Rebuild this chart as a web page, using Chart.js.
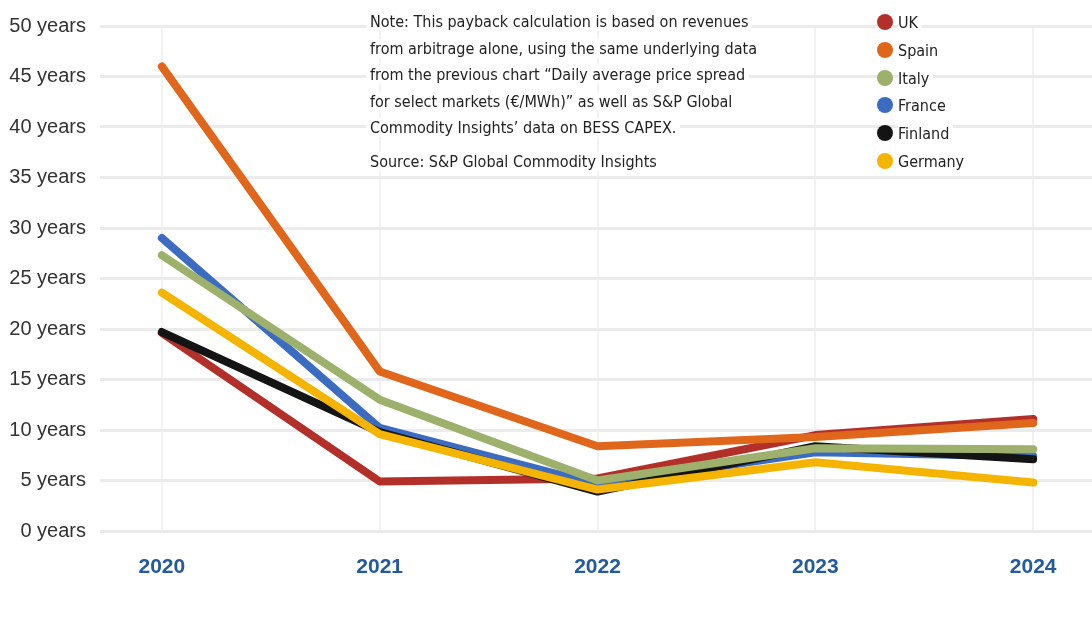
<!DOCTYPE html>
<html lang="en">
<head>
<meta charset="UTF-8">
<title>BESS payback by market</title>
<style>
body { margin: 0; background: #fff; font-family: 'Liberation Sans Narrow', 'DejaVu Sans Condensed', sans-serif; }
.wrap { position: relative; width: 1092px; height: 619px; }
#chart { position: absolute; left: 0; top: 0; }
.note { position: absolute; left: 366px; top: 9px; font-size: 16px; line-height: 26.6px; color: #222; }
.note span { background: #fff; padding: 0 4px; }
.note .src { margin-top: 7px; }
.legend { position: absolute; left: 877px; top: 9px; font-size: 16px; color: #222; }
.legend div { height: 27.8px; line-height: 27.8px; }
.legend i { display: inline-block; width: 16px; height: 16px; border-radius: 50%; vertical-align: -2px; margin-right: 5px; }
.legend span { background: #fff; padding-right: 4px; }
</style>
</head>
<body>
<div class="wrap">
  <canvas id="chart" width="1092" height="619"></canvas>
  <div class="note">
    <div><span>Note: This payback calculation is based on revenues</span></div>
    <div><span>from arbitrage alone, using the same underlying data</span></div>
    <div><span>from the previous chart “Daily average price spread</span></div>
    <div><span>for select markets (€/MWh)” as well as S&amp;P Global</span></div>
    <div><span>Commodity Insights’ data on BESS CAPEX.</span></div>
    <div class="src"><span>Source: S&amp;P Global Commodity Insights</span></div>
  </div>
  <div class="legend" id="legend"></div>
</div>
<script src="https://cdn.jsdelivr.net/npm/chart.js@4.4.1/dist/chart.umd.min.js"></script>
<script>
const years = [2020, 2021, 2022, 2023, 2024];
const countries = ['UK', 'Spain', 'Italy', 'France', 'Finland', 'Germany'];
const colors = ['#b3302a', '#e0661c', '#9db16c', '#3b6cc2', '#141414', '#f5b400'];
const uk = [19.6, 4.9, 5.2, 9.5, 11.1];
const spain = [46.0, 15.8, 8.4, 9.3, 10.7];
const italy = [27.3, 13.0, 5.0, 8.2, 8.1];
const france = [29.0, 10.2, 4.6, 7.8, 7.4];
const finland = [19.7, 9.8, 3.9, 8.4, 7.1];
const germany = [23.6, 9.6, 4.1, 6.8, 4.8];
const yTicks = [0, 5, 10, 15, 20, 25, 30, 35, 40, 45, 50];
// stacking order of the lines (1 = on top)
const drawOrder = [6, 5, 1, 4, 3, 2];

const series = [uk, spain, italy, france, finland, germany];

document.getElementById('legend').innerHTML = countries.map((c, i) =>
  `<div><i style="background:${colors[i]}"></i><span>${c}</span></div>`).join('');

new Chart(document.getElementById('chart'), {
  type: 'line',
  data: {
    datasets: series.map((vals, i) => ({
      label: countries[i],
      data: vals.map((v, j) => ({ x: years[j], y: v })),
      borderColor: colors[i],
      backgroundColor: colors[i],
      borderWidth: 8,
      borderCapStyle: 'round',
      borderJoinStyle: 'round',
      pointRadius: 0,
      fill: false,
      tension: 0,
      order: drawOrder[i]
    }))
  },
  options: {
    responsive: false,
    animation: false,
    layout: { padding: { top: 17, right: 0, left: 0, bottom: 0 } },
    plugins: { legend: { display: false }, tooltip: { enabled: false } },
    scales: {
      x: {
        type: 'linear',
        min: 2019.716,
        max: 2024.27,
        afterBuildTicks: s => { s.ticks = years.map(v => ({ value: v })); },
        afterFit: s => { s.height = 88; },
        border: { display: false },
        grid: { color: '#f2f2f2', lineWidth: 2, drawTicks: false },
        ticks: {
          padding: 24,
          color: '#245a9e',
          font: { family: "'Liberation Sans Narrow', sans-serif", size: 21, weight: 'bold' },
          callback: v => String(v)
        }
      },
      y: {
        min: 0,
        max: 50,
        afterBuildTicks: s => { s.ticks = yTicks.map(v => ({ value: v })); },
        afterFit: s => { s.width = 100; },
        border: { display: false },
        grid: { color: '#ebebeb', lineWidth: 3, drawTicks: false },
        ticks: {
          padding: 14,
          color: '#333',
          font: { family: "'Liberation Sans Narrow', sans-serif", size: 20 },
          callback: v => v + ' years'
        }
      }
    }
  }
});
</script>
</body>
</html>
